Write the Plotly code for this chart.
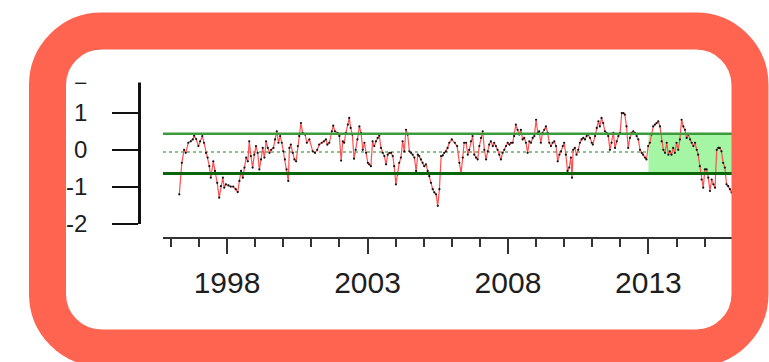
import plotly.graph_objects as go

# Monthly anomaly series (decimal year, value)
t = [
    1996.30, 1996.39, 1996.47, 1996.53, 1996.62, 1996.71, 1996.78, 1996.83, 1996.90, 1996.98,
    1997.04, 1997.12, 1997.18, 1997.25, 1997.31, 1997.37, 1997.42, 1997.51, 1997.57, 1997.65,
    1997.72, 1997.78, 1997.85, 1997.90, 1997.96, 1998.05, 1998.13, 1998.22, 1998.31, 1998.38,
    1998.44, 1998.50, 1998.56, 1998.62, 1998.68, 1998.74, 1998.79, 1998.85, 1998.91, 1998.97,
    1999.03, 1999.09, 1999.15, 1999.21, 1999.27, 1999.33, 1999.39, 1999.45, 1999.51, 1999.57,
    1999.65, 1999.71, 1999.77, 1999.83, 1999.89, 1999.95, 2000.00, 2000.06, 2000.12, 2000.18,
    2000.22, 2000.27, 2000.34, 2000.40, 2000.46, 2000.52, 2000.57, 2000.63, 2000.69, 2000.78,
    2000.84, 2000.93,
    2001.05, 2001.13, 2001.21, 2001.28, 2001.37, 2001.45, 2001.52, 2001.57, 2001.64, 2001.73,
    2001.78, 2001.84, 2001.93, 2002.00, 2002.06, 2002.12, 2002.17, 2002.23, 2002.30, 2002.35,
    2002.40, 2002.46, 2002.52, 2002.58, 2002.64, 2002.71, 2002.77, 2002.83, 2002.89, 2002.95,
    2003.01, 2003.06, 2003.12, 2003.18, 2003.24, 2003.30, 2003.36, 2003.42, 2003.48, 2003.54,
    2003.60, 2003.66, 2003.72, 2003.78, 2003.84, 2003.90, 2003.95, 2004.01, 2004.07, 2004.13,
    2004.19, 2004.25, 2004.31, 2004.37, 2004.43, 2004.49, 2004.55, 2004.61, 2004.67, 2004.73,
    2004.79, 2004.84, 2004.90, 2004.96, 2005.02, 2005.08, 2005.14, 2005.20, 2005.26, 2005.32,
    2005.38, 2005.44, 2005.50, 2005.56, 2005.62, 2005.68, 2005.73, 2005.79, 2005.85, 2005.91,
    2006.00,
    2006.11, 2006.19, 2006.27, 2006.33, 2006.39, 2006.44, 2006.51, 2006.57, 2006.62, 2006.68,
    2006.74, 2006.80, 2006.86, 2006.92, 2006.98, 2007.04, 2007.10, 2007.16, 2007.22, 2007.28,
    2007.33, 2007.39, 2007.46, 2007.51, 2007.57, 2007.63, 2007.69, 2007.75, 2007.81, 2007.87,
    2007.93, 2007.99, 2008.05, 2008.11, 2008.17, 2008.22, 2008.28, 2008.34, 2008.40, 2008.46,
    2008.52, 2008.58, 2008.64, 2008.70, 2008.76, 2008.82, 2008.88, 2008.94, 2009.00, 2009.06,
    2009.11, 2009.17, 2009.23, 2009.29, 2009.35, 2009.41, 2009.47, 2009.53, 2009.59, 2009.65,
    2009.71, 2009.77, 2009.83, 2009.89, 2009.95, 2010.00, 2010.06, 2010.12, 2010.18, 2010.24,
    2010.28, 2010.32, 2010.38, 2010.44, 2010.50, 2010.56, 2010.62, 2010.68, 2010.74, 2010.80,
    2010.86, 2010.92, 2010.98,
    2011.02, 2011.10, 2011.16, 2011.22, 2011.27, 2011.33, 2011.39, 2011.45, 2011.51, 2011.57,
    2011.63, 2011.69, 2011.75, 2011.81, 2011.87, 2011.93, 2011.99, 2012.05, 2012.11, 2012.16,
    2012.22, 2012.28, 2012.34, 2012.40, 2012.46, 2012.52, 2012.58, 2012.64, 2012.70, 2012.76,
    2012.81, 2012.88, 2012.93, 2012.99, 2013.05, 2013.11, 2013.17, 2013.23, 2013.29, 2013.35,
    2013.41, 2013.47, 2013.53, 2013.59, 2013.65, 2013.71, 2013.76, 2013.82, 2013.88, 2013.94,
    2014.00, 2014.06, 2014.12, 2014.18, 2014.24, 2014.30, 2014.36, 2014.42, 2014.48, 2014.54,
    2014.60, 2014.66, 2014.72, 2014.77, 2014.83, 2014.89, 2014.95, 2015.01, 2015.07, 2015.13,
    2015.19, 2015.25, 2015.31, 2015.37, 2015.43, 2015.49, 2015.54, 2015.60, 2015.66, 2015.72,
    2015.78, 2015.84, 2015.90, 2015.96,
]

anom = [
    -1.20, -0.35, 0.00, -0.08, 0.19, 0.23, 0.28, 0.38, 0.29, 0.10,
    0.23, 0.37, 0.19, -0.08, -0.21, -0.44, -0.75, -0.31, -0.57, -0.89,
    -1.29, -0.98, -0.75, -1.02, -0.93, -0.96, -0.99, -0.99, -1.06, -1.14,
    -0.84, -0.57, -0.75, -0.48, -0.21, -0.31, 0.23, -0.17, -0.48, -0.13,
    0.10, -0.08, -0.53, -0.26, 0.05, -0.21, 0.23, 0.05, -0.08, 0.00,
    0.05, 0.28, 0.50, 0.19, 0.37, 0.19, -0.04, -0.26, -0.53, -0.84,
    0.05, 0.14, -0.08, -0.26, -0.31, 0.10, 0.37, 0.72, 0.46, 0.41,
    0.19, 0.28,
    -0.04, -0.08, 0.00, 0.14, 0.19, 0.23, 0.28, 0.14, 0.19, 0.50,
    0.65, 0.50, 0.46, 0.37, -0.29, 0.23, 0.19, 0.46, 0.68, 0.86,
    0.59, 0.41, -0.24, 0.00, 0.28, 0.63, 0.46, 0.00, 0.19, -0.08,
    -0.35, -0.39, -0.44, 0.23, 0.10, 0.23, 0.32, 0.38, 0.05, -0.08,
    -0.17, -0.39, -0.13, -0.08, -0.08, -0.17, -0.44, -0.93, -0.66, -0.35,
    -0.21, 0.23, -0.04, 0.54, 0.41, -0.04, -0.08, -0.13, -0.21, -0.57,
    -0.13, -0.17, -0.26, -0.35, -0.44, -0.39, -0.57, -0.71, -0.89, -1.06,
    -1.15, -1.20, -1.51, -1.06, -0.17, -0.15, -0.08, -0.04, 0.05, 0.19,
    0.28,
    0.19, 0.10, -0.35, -0.62, -0.21, 0.19, 0.19, -0.13, 0.00, 0.23,
    0.37, -0.13, -0.21, -0.26, 0.10, 0.32, 0.50, 0.00, -0.26, -0.04,
    0.14, 0.23, 0.10, 0.19, 0.10, 0.00, -0.13, -0.26, -0.08, 0.00,
    0.10, 0.19, 0.14, 0.19, 0.19, 0.37, 0.68, 0.54, 0.41, 0.54,
    0.28, 0.32, 0.19, -0.08, 0.23, 0.19, 0.32, 0.37, 0.81, 0.46,
    0.50, 0.19, 0.46, 0.54, 0.63, 0.46, 0.19, 0.10, 0.19, 0.23,
    0.10, -0.31, -0.13, -0.04, 0.10, 0.19, -0.13, -0.57, -0.48, -0.21,
    -0.75, 0.00, 0.05, -0.13, 0.00, 0.19, 0.28, 0.32, 0.28, 0.37,
    0.41, 0.32, 0.19,
    0.14, 0.37, 0.59, 0.77, 0.63, 0.86, 0.72, 0.50, 0.46, 0.37,
    0.00, 0.19, 0.46, 0.05, 0.23, 0.37, 0.46, 0.99, 0.99, 0.95,
    0.63, 0.05, 0.32, 0.46, 0.50, 0.46, 0.37, 0.28, 0.00, -0.08,
    -0.13, -0.21, -0.26, 0.10, 0.19, 0.41, 0.63, 0.68, 0.72, 0.77,
    0.63, 0.23, 0.00, -0.08, 0.19, -0.13, -0.04, -0.13, 0.05, -0.08,
    0.19, 0.00, 0.28, 0.81, 0.63, 0.54, 0.32, 0.41, 0.28, 0.19,
    0.10, 0.19, 0.00, -0.13, -0.44, -0.80, -1.02, -0.53, -0.53, -0.75,
    -1.11, -0.80, -0.93, -1.02, 0.00, 0.05, 0.05, -0.04, -0.35, -0.48,
    -0.93, -0.98, -1.06, -1.15,
]

# Control band and highlighted period
upper_limit = 0.43
centre_line = -0.06
lower_limit = -0.64
highlight_start = 2013.0

x_ticks = [1998, 2003, 2008, 2013]
y_ticks = [-2, -1, 0, 1, 2]
y_labels = ["-2", "-1", "0", "1", "2"]
x_range = [1995.72, 2016.01]
y_range = [-2.0, 2.3]

W, H = 769, 362
FRAME = "#FF6450"
FONT = "Liberation Sans, Arial, sans-serif"


def px(x):
    return x / W


def py(y):
    return 1 - y / H


def rounded_rect(x0, y0, x1, y1, r):
    """Rounded rectangle path in paper coordinates from pixel corners."""
    k = 0.5523 * r
    pts = [
        f"M {px(x0 + r)},{py(y0)}",
        f"L {px(x1 - r)},{py(y0)}",
        f"C {px(x1 - r + k)},{py(y0)} {px(x1)},{py(y0 + r - k)} {px(x1)},{py(y0 + r)}",
        f"L {px(x1)},{py(y1 - r)}",
        f"C {px(x1)},{py(y1 - r + k)} {px(x1 - r + k)},{py(y1)} {px(x1 - r)},{py(y1)}",
        f"L {px(x0 + r)},{py(y1)}",
        f"C {px(x0 + r - k)},{py(y1)} {px(x0)},{py(y1 - r + k)} {px(x0)},{py(y1 - r)}",
        f"L {px(x0)},{py(y0 + r)}",
        f"C {px(x0)},{py(y0 + r - k)} {px(x0 + r - k)},{py(y0)} {px(x0 + r)},{py(y0)}",
        "Z",
    ]
    return " ".join(pts)


fig = go.Figure()

fig.add_trace(go.Scatter(
    x=t, y=anom, mode="lines+markers",
    line=dict(color="#ff5050", width=1.2),
    marker=dict(color="#111111", size=2.2),
    hoverinfo="skip", showlegend=False,
))

shapes = [
    # highlighted recent period inside the band
    dict(type="rect", xref="x", yref="y", x0=highlight_start, x1=x_range[1],
         y0=lower_limit, y1=upper_limit, fillcolor="#A4F5A4",
         line=dict(width=0), layer="below"),
    dict(type="line", xref="x domain", yref="y", x0=0, x1=1,
         y0=upper_limit, y1=upper_limit, line=dict(color="#3d9a3d", width=2.5)),
    dict(type="line", xref="x domain", yref="y", x0=0, x1=1,
         y0=lower_limit, y1=lower_limit, line=dict(color="#0b650b", width=3)),
    dict(type="line", xref="x domain", yref="y", x0=0, x1=1,
         y0=centre_line, y1=centre_line,
         line=dict(color="#8cc08c", width=2, dash="dot"), layer="below"),
    # top edge of the panel trims the upper part of the y axis
    dict(type="rect", xref="paper", yref="paper",
         x0=px(66), x1=px(733), y0=py(82.5), y1=py(49),
         fillcolor="white", line=dict(width=0), layer="above"),
    # rounded frame
    dict(type="path", xref="paper", yref="paper",
         path=rounded_rect(47.5, 31, 750, 348, 54),
         line=dict(color=FRAME, width=37), fillcolor="rgba(0,0,0,0)",
         layer="above"),
]

fig.update_layout(
    width=W, height=H, autosize=False,
    margin=dict(l=0, r=0, t=0, b=0, pad=0, autoexpand=False),
    paper_bgcolor="white", plot_bgcolor="rgba(0,0,0,0)",
    shapes=shapes,
    xaxis=dict(
        domain=[px(163), px(733)], range=x_range,
        anchor="free", position=(H - 238) / H, automargin=False,
        showline=True, linecolor="#333333", linewidth=1.5,
        ticks="outside", tickvals=x_ticks, ticktext=[str(v) for v in x_ticks],
        ticklen=15, tickwidth=1.6, tickcolor="#333333",
        minor=dict(ticks="outside", dtick=1, tick0=1996, ticklen=8,
                   tickwidth=1.6, tickcolor="#333333", showgrid=False),
        tickfont=dict(family=FONT, size=30, color="#1e1e1e"),
        ticklabelstandoff=3,
        showgrid=False, zeroline=False,
    ),
    yaxis=dict(
        domain=[(H - 224) / H, py(64.5)], range=y_range,
        anchor="free", position=px(139), automargin=False,
        showline=True, linecolor="#111111", linewidth=2.5,
        ticks="outside", tickvals=y_ticks, ticktext=y_labels,
        ticklen=26, tickwidth=2, tickcolor="#111111",
        tickfont=dict(family=FONT, size=24, color="#1e1e1e"),
        ticklabelstandoff=20,
        showgrid=False, zeroline=False,
    ),
)

fig.write_html("out.html")
